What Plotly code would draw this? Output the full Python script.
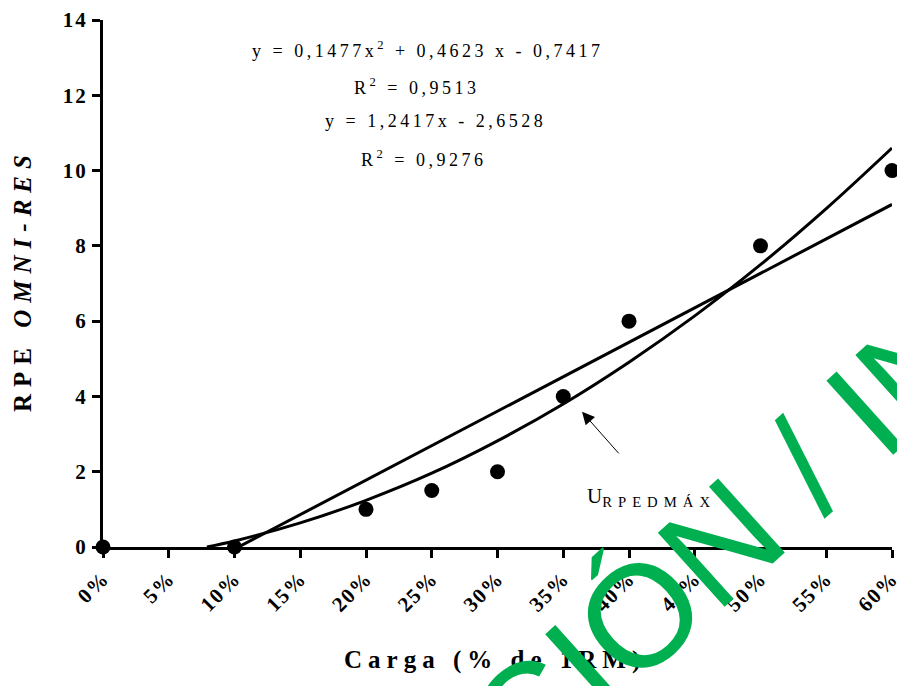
import plotly.graph_objects as go

# ---- data ----
load_pct = [0, 10, 20, 25, 30, 35, 40, 50, 60]
rpe = [0, 0, 1, 1.5, 2, 4, 6, 8, 10]

quad_x = [7.9, 10, 15, 20, 25, 30, 35, 40, 45, 50, 55, 60]
quad_y = [0, 0.16, 0.64, 1.24, 1.96, 2.82, 3.80, 4.91, 6.14, 7.50, 8.99, 10.6]

lin_x = [10.3, 60]
lin_y = [0, 9.1]

x_tick_vals = [0, 5, 10, 15, 20, 25, 30, 35, 40, 45, 50, 55, 60]
x_tick_text = ["0%", "5%", "10%", "15%", "20%", "25%", "30%", "35%", "40%", "45%", "50%", "55%", "60%"]
y_tick_vals = [0, 2, 4, 6, 8, 10, 12, 14]
y_tick_text = ["0", "2", "4", "6", "8", "10", "12", "14"]

eq_lines = ["y = 0,1477x<sup>2</sup> + 0,4623 x - 0,7417",
            "R<sup>2</sup> = 0,9513",
            "y = 1,2417x - 2,6528",
            "R<sup>2</sup> = 0,9276"]

SERIF = "Liberation Serif, Times New Roman, Tinos, DejaVu Serif, serif"
SANS = "Liberation Sans, Arial, sans-serif"

L, R, T, B = 103, 5, 20, 139
W, H = 897, 686
PW, PH = W - L - R, H - T - B


def px_x(px):
    return (px - L) / PW


def px_y(py):
    return (H - B - py) / PH


def ls(text, px):
    return f'<span style="letter-spacing:{px}px">{text}</span>'


fig = go.Figure()

fig.add_trace(go.Scatter(x=quad_x, y=quad_y, mode="lines", line=dict(color="black", width=3, shape="spline"),
                         hoverinfo="skip", showlegend=False))
fig.add_trace(go.Scatter(x=lin_x, y=lin_y, mode="lines", line=dict(color="black", width=3),
                         hoverinfo="skip", showlegend=False))
fig.add_trace(go.Scatter(x=load_pct, y=rpe, mode="markers", marker=dict(color="black", size=15),
                         cliponaxis=False, showlegend=False))

# equations
eq_pos = [(428, 50), (416, 86), (435, 121), (423, 158)]
for t, (px, py) in zip(eq_lines, eq_pos):
    fig.add_annotation(xref="paper", yref="paper", x=px_x(px), y=px_y(py),
                       text=ls(t, 3.5), showarrow=False, xanchor="center", yanchor="middle",
                       font=dict(family=SERIF, size=18, color="black"))

# arrow
fig.add_annotation(x=36.43, y=3.59, xref="x", yref="y", text="", showarrow=True,
                   ax=38, ay=43, arrowhead=2, arrowsize=2.5, arrowwidth=1, arrowcolor="black")

# U RPEDMAX label
fig.add_annotation(xref="paper", yref="paper", x=px_x(585), y=px_y(497),
                   text="U<sub>" + ls("RPEDMÁX", 6) + "</sub>", showarrow=False,
                   xanchor="left", yanchor="middle",
                   font=dict(family=SERIF, size=21, color="black"))

# axis titles
fig.add_annotation(xref="paper", yref="paper", x=px_x(495), y=px_y(660),
                   text="<b>" + ls("Carga (% de 1RM)", 6) + "</b>", showarrow=False,
                   xanchor="center", yanchor="middle",
                   font=dict(family=SERIF, size=25, color="black"))
fig.add_annotation(xref="paper", yref="paper", x=px_x(22), y=px_y(280),
                   text="<b>" + ls("RPE <i>OMNI-RES</i>", 7) + "</b>", showarrow=False,
                   textangle=-90, xanchor="center", yanchor="middle",
                   font=dict(family=SERIF, size=25, color="black"))

# watermark
fig.add_annotation(xref="paper", yref="paper", x=px_x(724), y=px_y(540),
                   text="CIÓN / IN", showarrow=False, textangle=-42,
                   xanchor="center", yanchor="middle",
                   font=dict(family=SANS, size=145, color="#00B050"))

fig.update_xaxes(range=[0, 60], tickmode="array", tickvals=x_tick_vals,
                 ticktext=["<b>" + ls(t, 1.5) + "</b>" for t in x_tick_text],
                 tickangle=-45, ticks="outside", ticklen=8, tickwidth=3, tickcolor="black",
                 showline=True, linewidth=3, linecolor="black", showgrid=False, zeroline=False,
                 automargin=False, ticklabeloverflow="allow",
                 tickfont=dict(family=SERIF, size=21, color="black"))
fig.update_yaxes(range=[0, 14], tickmode="array", tickvals=y_tick_vals,
                 ticktext=["<b>" + ls(t, 2) + "</b>" for t in y_tick_text],
                 ticks="outside", ticklen=8, tickwidth=3, tickcolor="black",
                 showline=True, linewidth=3, linecolor="black", showgrid=False, zeroline=False,
                 automargin=False,
                 tickfont=dict(family=SERIF, size=21, color="black"))

fig.update_layout(width=W, height=H, margin=dict(l=L, r=R, t=T, b=B, autoexpand=False),
                  paper_bgcolor="white", plot_bgcolor="white", showlegend=False)

fig.write_html("out.html", config={"displayModeBar": False},
               post_script="document.body.style.margin='0';document.body.style.padding='0';"
                           "document.body.style.overflow='hidden';")
